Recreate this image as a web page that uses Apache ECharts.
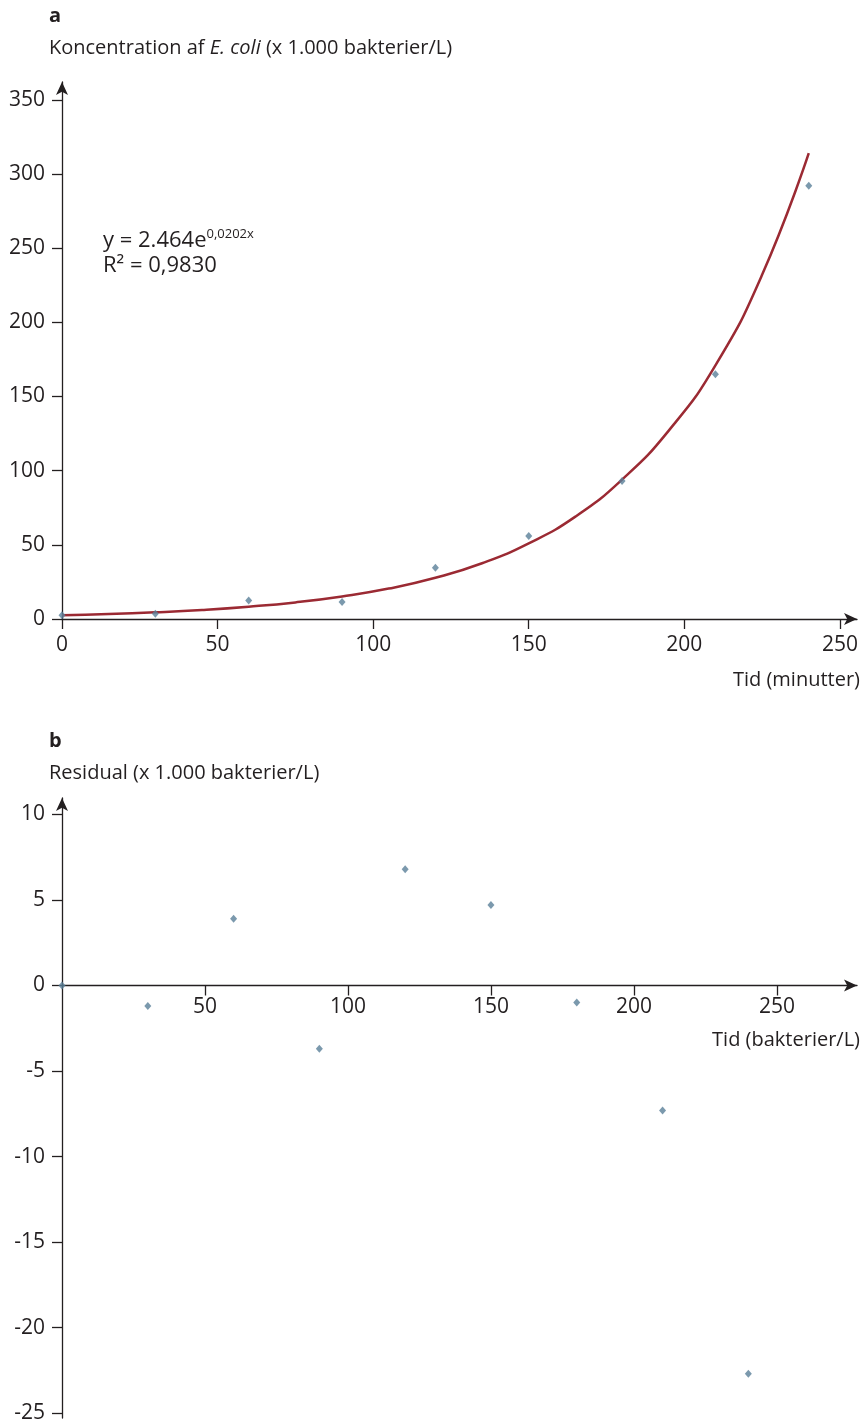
<!DOCTYPE html>
<html>
<head>
<meta charset="utf-8">
<script src="https://cdn.jsdelivr.net/npm/echarts@6/dist/echarts.min.js"></script>
<style>
  html, body { margin: 0; padding: 0; background: #fff; }
  #chart { width: 863px; height: 1424px; }
</style>
</head>
<body>
<div id="chart"></div>
<script>
// a: målte koncentrationer
var tid = [0, 30, 60, 90, 120, 150, 180, 210, 240];
var koncentration = [2.5, 3.5, 12.5, 11.5, 34.5, 56, 93, 165, 292];
// tendenslinje
var trendTid = [0, 15, 30, 45, 60, 75, 90, 105, 120, 135, 150, 165, 180, 195, 210, 225, 240];
var trendVaerdi = [2.5, 3.3, 4.5, 6.1, 8.3, 11.2, 15.2, 20.5, 27.8, 37.6, 51, 69, 94, 127, 171, 232, 314];
// b: residualer
var residual = [0, -1.2, 3.9, -3.7, 6.8, 4.7, -1.0, -7.3, -22.7];

var xTicksA = [0, 50, 100, 150, 200, 250];
var yTicksA = [0, 50, 100, 150, 200, 250, 300, 350];
var xTicksB = [50, 100, 150, 200, 250];
var yTicksBpos = [10, 5, 0];
var yTicksBneg = [-5, -10, -15, -20, -25];

var FONT = 'Open Sans';
var INK = '#231f20';
var TICK_FS = 21;
var TEXT_FS = 20;

// figur b er delt i to gitre (over og under 0), begge 17.11 px pr. enhed
var bMax = 10.96, bMin = -25.28;
var bTop = 798, bZero = 985.5, bBottom = 1418;

function pairs(xs, ys) {
    var out = [];
    for (var i = 0; i < xs.length; i++) out.push([xs[i], ys[i]]);
    return out;
}

var residualPunkter = pairs(tid, residual);
var residualOver = residualPunkter.filter(function (p) { return p[1] >= 0; });
var residualUnder = residualPunkter.filter(function (p) { return p[1] < 0; });

var axisLineStyle = { color: INK, width: 1.3 };
var arrowLine = { show: true, onZero: false, lineStyle: axisLineStyle, symbol: ['none', 'arrow'], symbolSize: [9, 13] };
var labelStyle = { color: INK, fontSize: TICK_FS, fontFamily: FONT };
var pointStyle = { color: '#5a8099' };

var chart = echarts.init(document.getElementById('chart'));
var option = {
    animation: false,
    backgroundColor: '#fff',
    grid: [
        { left: 62, top: 82, width: 795, height: 537 },
        { left: 62, top: bTop, width: 795, height: bZero - bTop },
        { left: 62, top: bZero, width: 795, height: bBottom - bZero }
    ],
    xAxis: [
        {
            gridIndex: 0, type: 'value', min: 0, max: 255.5,
            axisLine: arrowLine,
            axisTick: { length: 10, lineStyle: axisLineStyle, customValues: xTicksA },
            axisLabel: Object.assign({ customValues: xTicksA, margin: 16 }, labelStyle),
            splitLine: { show: false }
        },
        {
            gridIndex: 1, type: 'value', min: 0, max: 278,
            axisLine: arrowLine,
            axisTick: { length: 10, lineStyle: axisLineStyle, customValues: xTicksB },
            axisLabel: Object.assign({ customValues: xTicksB, margin: 11 }, labelStyle),
            splitLine: { show: false }
        },
        {
            gridIndex: 2, type: 'value', min: 0, max: 278, show: false
        }
    ],
    yAxis: [
        {
            gridIndex: 0, type: 'value', min: 0, max: 362,
            axisLine: arrowLine,
            axisTick: { show: true, length: 10, lineStyle: axisLineStyle, customValues: yTicksA },
            axisLabel: Object.assign({ customValues: yTicksA, margin: 17 }, labelStyle),
            splitLine: { show: false }
        },
        {
            gridIndex: 1, type: 'value', min: 0, max: bMax,
            axisLine: arrowLine,
            axisTick: { show: true, length: 10, lineStyle: axisLineStyle, customValues: yTicksBpos },
            axisLabel: Object.assign({ customValues: yTicksBpos, margin: 17 }, labelStyle),
            splitLine: { show: false }
        },
        {
            gridIndex: 2, type: 'value', min: bMin, max: 0,
            axisLine: { show: true, onZero: false, lineStyle: axisLineStyle },
            axisTick: { show: true, length: 10, lineStyle: axisLineStyle, customValues: yTicksBneg },
            axisLabel: Object.assign({ customValues: yTicksBneg, margin: 17 }, labelStyle),
            splitLine: { show: false }
        }
    ],
    series: [
        {
            type: 'line', xAxisIndex: 0, yAxisIndex: 0,
            data: pairs(trendTid, trendVaerdi),
            smooth: true, showSymbol: false,
            lineStyle: { color: '#9b2a33', width: 2.5 },
            z: 2
        },
        {
            type: 'scatter', xAxisIndex: 0, yAxisIndex: 0,
            data: pairs(tid, koncentration),
            symbol: 'diamond', symbolSize: [7, 8], clip: false,
            itemStyle: pointStyle, z: 3
        },
        {
            type: 'scatter', xAxisIndex: 1, yAxisIndex: 1,
            data: residualOver,
            symbol: 'diamond', symbolSize: [7, 8], clip: false,
            itemStyle: pointStyle, z: 3
        },
        {
            type: 'scatter', xAxisIndex: 2, yAxisIndex: 2,
            data: residualUnder,
            symbol: 'diamond', symbolSize: [7, 8], clip: false,
            itemStyle: pointStyle, z: 3
        }
    ],
    graphic: [
        { type: 'text', left: 49, top: 6, style: { text: 'a', font: 'bold ' + TEXT_FS + 'px "' + FONT + '"', fill: INK } },
        {
            type: 'text', left: 49, top: 38,
            style: {
                text: 'Koncentration af {i|E. coli} (x 1.000 bakterier/L)',
                font: TEXT_FS + 'px "' + FONT + '"', fill: INK,
                rich: { i: { fontStyle: 'italic', fontSize: TEXT_FS, fontFamily: FONT, fill: INK } }
            }
        },
        {
            type: 'text', left: 103, top: 228,
            style: {
                text: 'y = 2.464e{sup|0,0202x}\nR² = 0,9830',
                font: '22px "' + FONT + '"', fill: INK, lineHeight: 25,
                rich: { sup: { fontSize: 13, fontFamily: FONT, fill: INK, verticalAlign: 'top', lineHeight: 25, padding: [0, 0, 10, 0] } }
            }
        },
        { type: 'text', right: 3, top: 670, style: { text: 'Tid (minutter)', font: TEXT_FS + 'px "' + FONT + '"', fill: INK } },
        { type: 'text', left: 49, top: 731, style: { text: 'b', font: 'bold ' + TEXT_FS + 'px "' + FONT + '"', fill: INK } },
        { type: 'text', left: 49, top: 763, style: { text: 'Residual (x 1.000 bakterier/L)', font: TEXT_FS + 'px "' + FONT + '"', fill: INK } },
        { type: 'text', right: 3, top: 1030, style: { text: 'Tid (bakterier/L)', font: TEXT_FS + 'px "' + FONT + '"', fill: INK } }
    ]
};
chart.setOption(option);
</script>
</body>
</html>
